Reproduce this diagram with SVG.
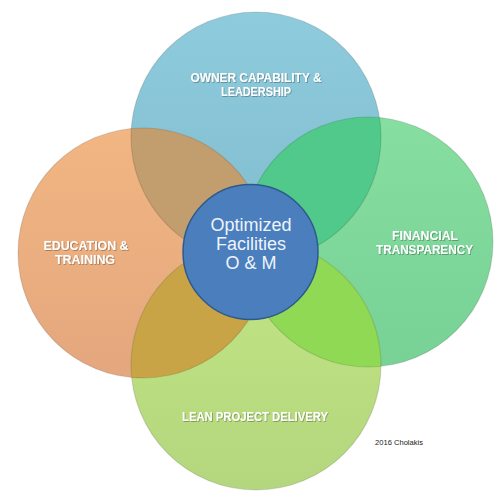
<svg xmlns="http://www.w3.org/2000/svg" width="500" height="498" viewBox="0 0 500 498">
<style>
.lbl{font-family:"Liberation Sans",Arial,sans-serif;font-weight:bold;font-size:13.5px;fill:#ffffff;text-anchor:middle}
.ctr{font-family:"Liberation Sans",Arial,sans-serif;font-size:18px;fill:#eef4fb;text-anchor:middle}
.edge{fill:none;stroke:#000;stroke-opacity:0.12;stroke-width:1.2}
</style>
<defs>
<filter id="sh" x="-10%" y="-30%" width="120%" height="160%"><feDropShadow dx="0.8" dy="0.8" stdDeviation="0.6" flood-color="#000" flood-opacity="0.35"/></filter>
<clipPath id="cTop"><circle cx="256" cy="137" r="125"/></clipPath>
<clipPath id="cLeft"><circle cx="143" cy="253" r="125"/></clipPath>
<clipPath id="cRight"><circle cx="368" cy="242" r="125"/></clipPath>
<clipPath id="cBottom"><circle cx="256" cy="365" r="125"/></clipPath>
<linearGradient id="gTop" x1="0" y1="0" x2="0" y2="1"><stop offset="0" stop-color="#8ecbdc"/><stop offset="1" stop-color="#80bccf"/></linearGradient>
<linearGradient id="gLeft" x1="0" y1="0" x2="0" y2="1"><stop offset="0" stop-color="#f1b682"/><stop offset="1" stop-color="#e4a77e"/></linearGradient>
<linearGradient id="gRight" x1="0" y1="0" x2="0" y2="1"><stop offset="0" stop-color="#86dea0"/><stop offset="1" stop-color="#78d195"/></linearGradient>
<linearGradient id="gBottom" x1="0" y1="0" x2="0" y2="1"><stop offset="0" stop-color="#c2e684"/><stop offset="1" stop-color="#b4d67e"/></linearGradient>
</defs>
<rect width="500" height="498" fill="#ffffff"/>
<g id="circle-top"><circle cx="256" cy="137" r="125" fill="url(#gTop)"/></g>
<g id="circle-left"><circle cx="143" cy="253" r="125" fill="url(#gLeft)"/></g>
<g id="circle-right"><circle cx="368" cy="242" r="125" fill="url(#gRight)"/></g>
<g id="circle-bottom"><circle cx="256" cy="365" r="125" fill="url(#gBottom)"/></g>
<g id="overlaps">
<g clip-path="url(#cTop)"><circle cx="143" cy="253" r="125" fill="#c29d6d"/></g>
<g clip-path="url(#cTop)"><circle cx="368" cy="242" r="125" fill="#50c98a"/></g>
<g clip-path="url(#cBottom)"><circle cx="143" cy="253" r="125" fill="#c9a446"/></g>
<g clip-path="url(#cBottom)"><circle cx="368" cy="242" r="125" fill="#8fd955"/></g>
</g>
<g id="edges">
<circle class="edge" cx="256" cy="137" r="125"/>
<circle class="edge" cx="143" cy="253" r="125"/>
<circle class="edge" cx="368" cy="242" r="125"/>
<circle class="edge" cx="256" cy="365" r="125"/>
</g>
<g id="center">
<circle cx="250.5" cy="252" r="67.5" fill="#4b7ebc" stroke="#2d5a8e" stroke-width="1.5"/>
<text class="ctr" x="251" y="231">Optimized</text>
<text class="ctr" x="251" y="250">Facilities</text>
<text class="ctr" x="251" y="269">O &amp; M</text>
</g>
<g id="labels" filter="url(#sh)">
<text class="lbl" x="256" y="82" textLength="131" lengthAdjust="spacingAndGlyphs">OWNER CAPABILITY &amp;</text>
<text class="lbl" x="256" y="96" textLength="70" lengthAdjust="spacingAndGlyphs">LEADERSHIP</text>
<text class="lbl" x="86" y="250" textLength="85" lengthAdjust="spacingAndGlyphs">EDUCATION &amp;</text>
<text class="lbl" x="85" y="264" textLength="60" lengthAdjust="spacingAndGlyphs">TRAINING</text>
<text class="lbl" x="425" y="240" textLength="66" lengthAdjust="spacingAndGlyphs">FINANCIAL</text>
<text class="lbl" x="424.5" y="254" textLength="97" lengthAdjust="spacingAndGlyphs">TRANSPARENCY</text>
<text class="lbl" x="255" y="421" textLength="146" lengthAdjust="spacingAndGlyphs">LEAN PROJECT DELIVERY</text>
</g>
<text x="375" y="445" font-family="Liberation Sans, Arial, sans-serif" font-size="7" fill="#222" textLength="48" lengthAdjust="spacingAndGlyphs">2016 Cholakis</text>
</svg>
